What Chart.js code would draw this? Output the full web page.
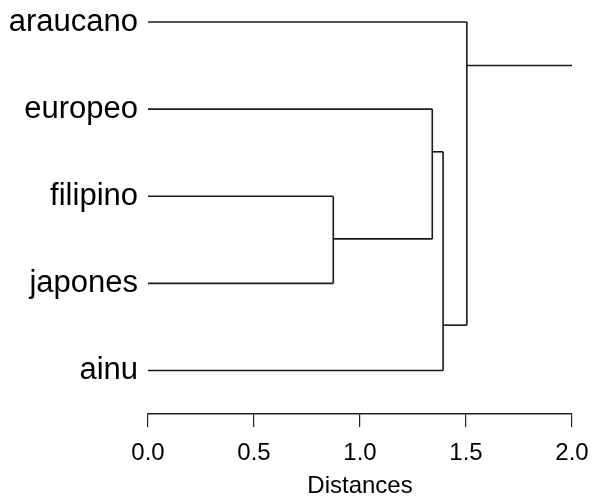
<!DOCTYPE html>
<html>
<head>
<meta charset="utf-8">
<script src="https://cdn.jsdelivr.net/npm/chart.js@4"></script>
<style>
  html, body { margin: 0; padding: 0; background: #ffffff; }
  #wrap { width: 593px; height: 496px; }
</style>
</head>
<body>
<div id="wrap"><canvas id="dendro" width="593" height="496"></canvas></div>
<script>
// 잎(leaf) 이름 - 위에서 아래 순서
const leafNames = ['araucano', 'europeo', 'filipino', 'japones', 'ainu'];

// 병합 노드: 0-4 = 잎, 5 이후 = 병합 순서대로 생성된 노드
const mergeA = [2, 1, 6, 0];
const mergeB = [3, 5, 4, 7];
const mergeHeight = [0.874, 1.341, 1.392, 1.504];
const mergeY = [2.49, 1.49, 3.48, 0.50];

// 루트에서 오른쪽으로 뻗는 선의 끝
const rootEnd = 2.0;

// x축 눈금
const xTicks = [0.0, 0.5, 1.0, 1.5, 2.0];

const LINE_COLOR = '#1a1a1a';
const FONT = '"Liberation Sans", Arial, Helvetica, sans-serif';

// 노드 위치 (높이, y)
function nodeHeight(i) {
    return i < leafNames.length ? 0 : mergeHeight[i - leafNames.length];
}
function nodeY(i) {
    return i < leafNames.length ? i : mergeY[i - leafNames.length];
}

// 선분 목록 생성
const segments = [];
mergeHeight.forEach((h, k) => {
    const a = mergeA[k];
    const b = mergeB[k];
    // 자식에서 병합 높이까지 수평선
    segments.push([{ x: nodeHeight(a), y: nodeY(a) }, { x: h, y: nodeY(a) }]);
    segments.push([{ x: nodeHeight(b), y: nodeY(b) }, { x: h, y: nodeY(b) }]);
    // 병합 높이에서 수직선
    segments.push([{ x: h, y: nodeY(a) }, { x: h, y: nodeY(b) }]);
});
const rootIdx = leafNames.length + mergeHeight.length - 1;
segments.push([{ x: nodeHeight(rootIdx), y: nodeY(rootIdx) }, { x: rootEnd, y: nodeY(rootIdx) }]);

const datasets = segments.map(seg => ({
    data: seg,
    showLine: true,
    borderColor: LINE_COLOR,
    borderWidth: 1.6,
    pointRadius: 0,
    fill: false,
    tension: 0
}));

new Chart(document.getElementById('dendro'), {
    type: 'scatter',
    data: { datasets: datasets },
    options: {
        responsive: false,
        animation: false,
        devicePixelRatio: 1,
        layout: {
            padding: { top: 0, right: 21, bottom: 0, left: 0 }
        },
        plugins: {
            legend: { display: false },
            tooltip: { enabled: false },
            title: { display: false }
        },
        scales: {
            x: {
                type: 'linear',
                position: 'bottom',
                min: 0,
                max: 2,
                afterBuildTicks: scale => {
                    scale.ticks = xTicks.map(v => ({ value: v }));
                },
                afterFit: scale => {
                    scale.height = 82;
                    scale.paddingLeft = 0;
                    scale.paddingRight = 0;
                },
                ticks: {
                    color: '#000000',
                    font: { family: FONT, size: 24, lineHeight: 1 },
                    padding: 14,
                    maxRotation: 0,
                    callback: v => Number(v).toFixed(1)
                },
                grid: {
                    display: true,
                    drawOnChartArea: false,
                    drawTicks: true,
                    tickLength: 13,
                    color: '#222222',
                    lineWidth: 1.2
                },
                border: { display: true, color: '#222222', width: 1.5 },
                title: {
                    display: true,
                    text: 'Distances',
                    color: '#000000',
                    font: { family: FONT, size: 24, lineHeight: 0.8 },
                    padding: { top: 15, bottom: 0 }
                }
            },
            y: {
                type: 'linear',
                reverse: true,
                min: -0.2525,
                max: 4.5,
                afterBuildTicks: scale => {
                    scale.ticks = leafNames.map((n, i) => ({ value: i }));
                },
                afterFit: scale => {
                    scale.width = 148;
                    scale.paddingTop = 0;
                    scale.paddingBottom = 0;
                },
                ticks: {
                    color: '#000000',
                    font: { family: FONT, size: 31 },
                    padding: 2,
                    callback: v => leafNames[v] !== undefined ? leafNames[v] : ''
                },
                grid: { display: false },
                border: { display: false }
            }
        }
    }
});
</script>
</body>
</html>
